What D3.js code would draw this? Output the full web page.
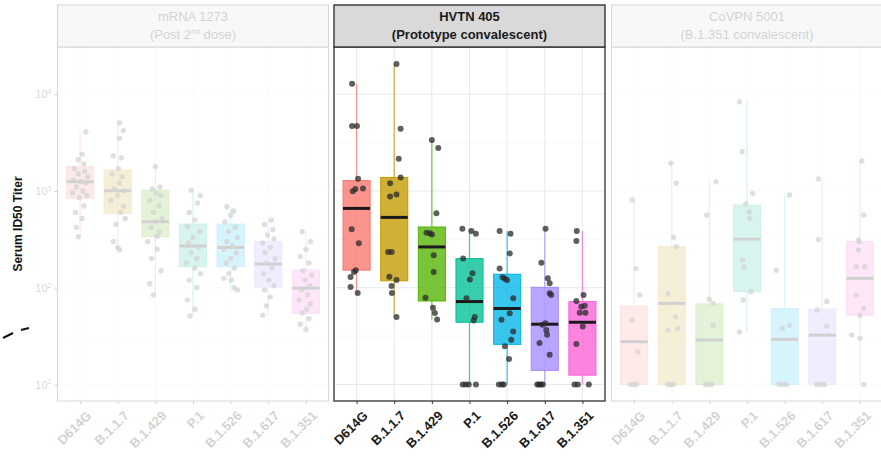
<!DOCTYPE html>
<html>
<head>
<meta charset="utf-8">
<script src="https://cdn.jsdelivr.net/npm/d3@7"></script>
<style>
  body { margin: 0; background: #fff; }
  svg { display: block; font-family: "Liberation Sans", Arial, sans-serif; }
</style>
</head>
<body>
<div id="chart"></div>
<script>
// variants on the x axis (same in every panel)
var variants = ["D614G", "B.1.1.7", "B.1.429", "P.1", "B.1.526", "B.1.617", "B.1.351"];
var colors = ["#F8766D", "#C49A00", "#53B400", "#00C094", "#00B6EB", "#A58AFF", "#FB61D7"];
var panelTitles = [["mRNA 1273", "(Post 2nd dose)"], ["HVTN 405", "(Prototype convalescent)"], ["CoVPN 5001", "(B.1.351 convalescent)"]];
var yTicks = [10, 100, 1000, 10000];

// box stats: whisker low, q1, median, q3, whisker high
var mrnaLo  = [336, 245, 84, 51, 95, 52, 37];
var mrnaQ1  = [839, 587, 336, 165, 165, 102, 54.5];
var mrnaMed = [1245, 1005, 481, 270, 261, 176, 99];
var mrnaQ3  = [1780, 1644, 1020, 455, 455, 299, 152];
var mrnaHi  = [4090, 5060, 1780, 1020, 687, 500, 379];

var hvtnLo  = [88, 50, 47, 10, 10, 10, 10];
var hvtnQ1  = [152, 118, 73, 44, 26, 14, 12.5];
var hvtnMed = [660, 533, 264, 72, 61, 42, 44];
var hvtnQ3  = [1280, 1380, 424, 200, 138, 101, 72];
var hvtnHi  = [12800, 20500, 3370, 408, 385, 408, 385];

var covLo  = [10, 10, 10, 35, 10, 10, 10];
var covQ1  = [10, 10, 10, 91, 10, 10, 52];
var covMed = [27.7, 69, 28.8, 318, 29.3, 32.4, 125];
var covQ3  = [64.7, 265, 68, 715, 61, 60, 299];
var covHi  = [805, 1930, 1245, 8340, 908, 1327, 2040];

// individual titers: [ID50, jitter (fraction of category step)]
var mrnaPts = [
  [[4090,.15],[2400,.05],[2100,-.05],[1900,.1],[1700,-.15],[1600,.12],[1500,-.05],[1400,.2],[1300,-.18],[1250,.02],[1200,.15],[1100,-.1],[1000,.08],[950,-.2],[900,.18],[850,-.02],[700,.1],[600,-.12],[520,.05],[420,-.1],[336,-.05]],
  [[5060,.05],[4200,.15],[3500,.05],[2300,-.12],[2200,.1],[1700,.02],[1500,-.15],[1400,.12],[1200,.05],[1050,-.1],[1000,.18],[900,0],[800,-.18],[700,.15],[600,.08],[520,.2],[450,-.05],[300,-.12],[260,0],[245,.05]],
  [[1780,0],[1100,.12],[1050,-.08],[950,.02],[900,.15],[800,-.15],[700,.1],[600,-.05],[520,.18],[480,0],[420,-.12],[380,.1],[340,.05],[300,-.2],[250,.05],[200,-.1],[150,.15],[110,-.15],[84,-.05]],
  [[1020,-.05],[900,.2],[750,.12],[600,-.1],[500,.05],[430,-.15],[380,.18],[330,0],[290,-.12],[260,.15],[230,-.05],[200,.1],[180,-.18],[160,.05],[140,.2],[120,-.1],[100,.1],[75,-.15],[60,.05],[51,-.08]],
  [[687,-.1],[620,.08],[560,0],[480,-.15],[420,.12],[380,-.05],[330,.18],[300,-.1],[270,.05],[250,-.18],[230,.15],[200,0],[180,-.12],[160,.1],[140,-.05],[125,-.18],[120,.02],[100,.1],[95,.18]],
  [[500,.08],[450,-.1],[400,.12],[350,-.02],[320,.15],[290,-.15],[260,.05],[230,-.08],[200,.18],[180,-.05],[160,.1],[140,-.12],[120,.02],[105,.15],[95,-.1],[80,.05],[65,-.05],[52,-.15]],
  [[379,-.1],[300,.12],[250,0],[210,-.15],[180,.08],[150,-.08],[135,.15],[120,-.02],[105,.1],[95,-.12],[85,.05],[75,-.18],[68,.12],[60,.02],[55,-.1],[48,.08],[42,-.15],[37,0]]
];

var hvtnPts = [
  [[12800,-.12],[4700,-.12],[4700,.01],[1340,.04],[1060,.17],[1050,-.03],[994,-.1],[401,-.13],[288,.06],[152,-.02],[145,-.07],[129,-.16],[102,-.16],[88,.03]],
  [[20500,.06],[4380,.17],[2150,.12],[1380,.17],[1200,-.11],[918,.06],[876,-.11],[234,-.16],[234,-.07],[130,-.13],[120,.06],[104,-.07],[88,-.06],[50,.06]],
  [[3370,0],[2775,.17],[590,.12],[370,-.14],[365,-.05],[355,0],[217,.05],[145,.05],[79,-.17],[62,.03],[55,.08],[47,.14]],
  [[408,-.19],[385,.05],[362,.17],[200,-.17],[141,.08],[122,.01],[78,-.08],[50,.14],[46,.11],[10,-.18],[10,-.1],[10,-.02],[10,.17]],
  [[385,-.2],[362,.09],[226,.07],[158,-.2],[128,-.12],[124,-.06],[120,0],[78,.16],[54.6,.07],[46.6,-.15],[35.3,.16],[29,.11],[24.8,-.06],[18.4,.05],[10,-.22],[10,-.14],[10,-.09]],
  [[408,.02],[181,-.09],[125,.08],[111,.13],[87.6,.13],[84,.17],[43,.02],[41.4,-.06],[36.7,.04],[32.7,.06],[26.8,-.14],[20.3,.13],[10,-.2],[10,-.15],[10,-.1],[10,-.05]],
  [[385,-.15],[304,-.16],[84,.03],[73,-.16],[65,.06],[63.8,-.03],[55.3,-.07],[55.3,.08],[39.7,.01],[26.2,-.16],[10,-.21],[10,-.12],[10,.17]]
];

var covPts = [
  [[805,-.05],[158,.05],[84,.15],[46,-.05],[21.8,.1],[10,-.1],[10,-.02],[10,.06]],
  [[1930,-.02],[1200,.12],[332,.05],[265,.12],[87.5,-.1],[50,.1],[36.5,-.1],[38,.16],[10,-.1],[10,-.02],[10,.05]],
  [[1245,.18],[564,-.07],[76,0],[69,.1],[41,.1],[10,-.1],[10,-.02],[10,.06]],
  [[8340,-.2],[2540,-.13],[944,.15],[733,-.03],[610,.06],[521,.07],[193,-.12],[165,-.08],[91,.1],[74.6,-.1],[35,-.2]],
  [[908,.13],[152,-.22],[38,-.06],[41,.13],[10,-.15],[10,-.05],[10,.05]],
  [[1327,-.1],[316,-.1],[59,-.14],[72,.12],[40,.12],[10,-.15],[10,-.05],[10,.05]],
  [[2040,.05],[564,.1],[311,-.04],[299,-.02],[245,-.04],[165,-.1],[165,.13],[84,-.1],[61,.1],[52,0],[32.4,-.22],[30,0],[10,.1]]
];

var panels = [
  { lo: mrnaLo, q1: mrnaQ1, med: mrnaMed, q3: mrnaQ3, hi: mrnaHi, pts: mrnaPts },
  { lo: hvtnLo, q1: hvtnQ1, med: hvtnMed, q3: hvtnQ3, hi: hvtnHi, pts: hvtnPts },
  { lo: covLo, q1: covQ1, med: covMed, q3: covQ3, hi: covHi, pts: covPts }
];

// layout
var W = 881, H = 460;
var plotTop = 47, plotBottom = 401, stripTop = 5;
var panelX = [57.5, 334, 611.5], panelW = 271;

var svg = d3.select("#chart").append("svg")
  .attr("width", W)
  .attr("height", H);

var y = d3.scaleLog().domain([6.76, 30700]).range([plotBottom, plotTop]);
var x = d3.scalePoint().domain(variants).range([0, panelW]).padding(0.6);
var step = x.step();
var boxW = step * 0.72;

panels.forEach(function (p, i) {
  var g = svg.append("g").attr("transform", "translate(" + panelX[i] + ",0)");
  var mid = i == 1;

  // grid
  g.append("g").selectAll("line.minor")
    .data([Math.pow(10, 1.5), Math.pow(10, 2.5), Math.pow(10, 3.5)])
    .enter().append("line")
    .attr("x1", 0).attr("x2", panelW)
    .attr("y1", function (d) { return y(d) }).attr("y2", function (d) { return y(d) })
    .attr("stroke", "#f2f2f2").attr("stroke-width", 0.6);
  g.append("g").selectAll("line.major")
    .data(yTicks)
    .enter().append("line")
    .attr("x1", 0).attr("x2", panelW)
    .attr("y1", function (d) { return y(d) }).attr("y2", function (d) { return y(d) })
    .attr("stroke", "#e8e8e8").attr("stroke-width", 1);
  g.append("g").selectAll("line.vgrid")
    .data(variants)
    .enter().append("line")
    .attr("x1", function (d) { return x(d) }).attr("x2", function (d) { return x(d) })
    .attr("y1", plotTop).attr("y2", plotBottom)
    .attr("stroke", "#e8e8e8").attr("stroke-width", 1);

  // whiskers
  var idx = d3.range(variants.length);
  g.append("g").selectAll("line.wlo")
    .data(idx).enter().append("line")
    .attr("x1", function (k) { return x(variants[k]) }).attr("x2", function (k) { return x(variants[k]) })
    .attr("y1", function (k) { return y(p.lo[k]) }).attr("y2", function (k) { return y(p.q1[k]) })
    .attr("stroke", function (k) { return colors[k] }).attr("stroke-width", 1.3).attr("opacity", 0.7);
  g.append("g").selectAll("line.whi")
    .data(idx).enter().append("line")
    .attr("x1", function (k) { return x(variants[k]) }).attr("x2", function (k) { return x(variants[k]) })
    .attr("y1", function (k) { return y(p.q3[k]) }).attr("y2", function (k) { return y(p.hi[k]) })
    .attr("stroke", function (k) { return colors[k] }).attr("stroke-width", 1.3).attr("opacity", 0.7);

  // boxes
  g.append("g").selectAll("rect")
    .data(idx).enter().append("rect")
    .attr("x", function (k) { return x(variants[k]) - boxW / 2 })
    .attr("width", boxW)
    .attr("y", function (k) { return y(p.q3[k]) })
    .attr("height", function (k) { return y(p.q1[k]) - y(p.q3[k]) })
    .attr("fill", function (k) { return colors[k] })
    .attr("fill-opacity", 0.78)
    .attr("stroke", function (k) { return colors[k] })
    .attr("stroke-width", 1);

  // medians
  g.append("g").selectAll("line")
    .data(idx).enter().append("line")
    .attr("x1", function (k) { return x(variants[k]) - boxW / 2 })
    .attr("x2", function (k) { return x(variants[k]) + boxW / 2 })
    .attr("y1", function (k) { return y(p.med[k]) }).attr("y2", function (k) { return y(p.med[k]) })
    .attr("stroke", "#1a1a1a").attr("stroke-width", 3);

  // jittered points
  var flat = [];
  p.pts.forEach(function (arr, k) {
    arr.forEach(function (d) { flat.push({ v: variants[k], t: d[0], j: d[1] }) });
  });
  g.append("g").selectAll("circle")
    .data(flat).enter().append("circle")
    .attr("cx", function (d) { return x(d.v) + d.j * step })
    .attr("cy", function (d) { return y(d.t) })
    .attr("r", mid ? 3 : 2.7)
    .attr("fill", "#2a2a2a")
    .attr("fill-opacity", 0.75);

  // panel border
  g.append("rect")
    .attr("x", 0).attr("y", plotTop)
    .attr("width", panelW).attr("height", plotBottom - plotTop)
    .attr("fill", "none")
    .attr("stroke", mid ? "#555" : "#333")
    .attr("stroke-width", mid ? 1.6 : 1);

  // strip
  g.append("rect")
    .attr("x", 0).attr("y", stripTop)
    .attr("width", panelW).attr("height", plotTop - stripTop)
    .attr("fill", "#d9d9d9")
    .attr("stroke", "#333")
    .attr("stroke-width", mid ? 1.4 : 1);
  var st = g.append("text")
    .attr("text-anchor", "middle")
    .attr("font-size", 13)
    .attr("font-weight", mid ? "bold" : "normal")
    .attr("fill", "#1a1a1a");
  st.append("tspan").attr("x", panelW / 2).attr("y", 21).text(panelTitles[i][0]);
  if (i == 0) {
    var l2 = st.append("tspan").attr("x", panelW / 2).attr("y", 39);
    l2.append("tspan").text("(Post 2");
    l2.append("tspan").attr("font-size", 8).attr("dy", -5).text("nd");
    l2.append("tspan").attr("dy", 5).text(" dose)");
  } else {
    st.append("tspan").attr("x", panelW / 2).attr("y", 39).text(panelTitles[i][1]);
  }

  // x axis
  var xa = g.append("g")
    .attr("transform", "translate(0," + plotBottom + ")")
    .call(d3.axisBottom(x).tickSize(3).tickSizeOuter(0));
  xa.select(".domain").remove();
  xa.selectAll(".tick line").attr("stroke", "#333");
  xa.selectAll(".tick text")
    .attr("font-family", "Liberation Sans, Arial, sans-serif")
    .attr("font-size", 13)
    .attr("font-weight", "bold")
    .attr("fill", "#1a1a1a")
    .attr("text-anchor", "end")
    .attr("dy", "0.35em")
    .attr("transform", "translate(4,8) rotate(-45)");
});

// y axis on the first panel
var ya = svg.append("g")
  .attr("transform", "translate(" + panelX[0] + ",0)")
  .call(d3.axisLeft(y).tickValues(yTicks).tickSize(3).tickFormat(""));
ya.select(".domain").remove();
ya.selectAll(".tick line").attr("stroke", "#333");
ya.selectAll(".tick").append("text")
  .attr("x", -6).attr("dy", "0.32em")
  .attr("text-anchor", "end")
  .attr("font-size", 11)
  .attr("fill", "#333")
  .each(function (d) {
    var t = d3.select(this);
    t.append("tspan").text("10");
    t.append("tspan").attr("font-size", 7).attr("dy", "-0.6em").text(Math.round(Math.log10(d)));
  });

// fade the two side panels (white veil)
svg.append("rect").attr("x", 27).attr("y", 0).attr("width", 304.5).attr("height", H)
  .attr("fill", "#fff").attr("opacity", 0.8);
svg.append("rect").attr("x", 608.5).attr("y", 0).attr("width", W - 608.5).attr("height", H)
  .attr("fill", "#fff").attr("opacity", 0.8);

// y title
svg.append("text")
  .attr("transform", "translate(22," + (plotTop + plotBottom) / 2 + ") rotate(-90)")
  .attr("text-anchor", "middle")
  .attr("font-size", 12)
  .attr("font-weight", "bold")
  .attr("fill", "#111")
  .text("Serum ID50 Titer");

// stray pen marks at the left edge
svg.append("path").attr("d", "M3,338 L13,333 M21,330 L29,328")
  .attr("stroke", "#111").attr("stroke-width", 2).attr("fill", "none");
</script>
</body>
</html>
